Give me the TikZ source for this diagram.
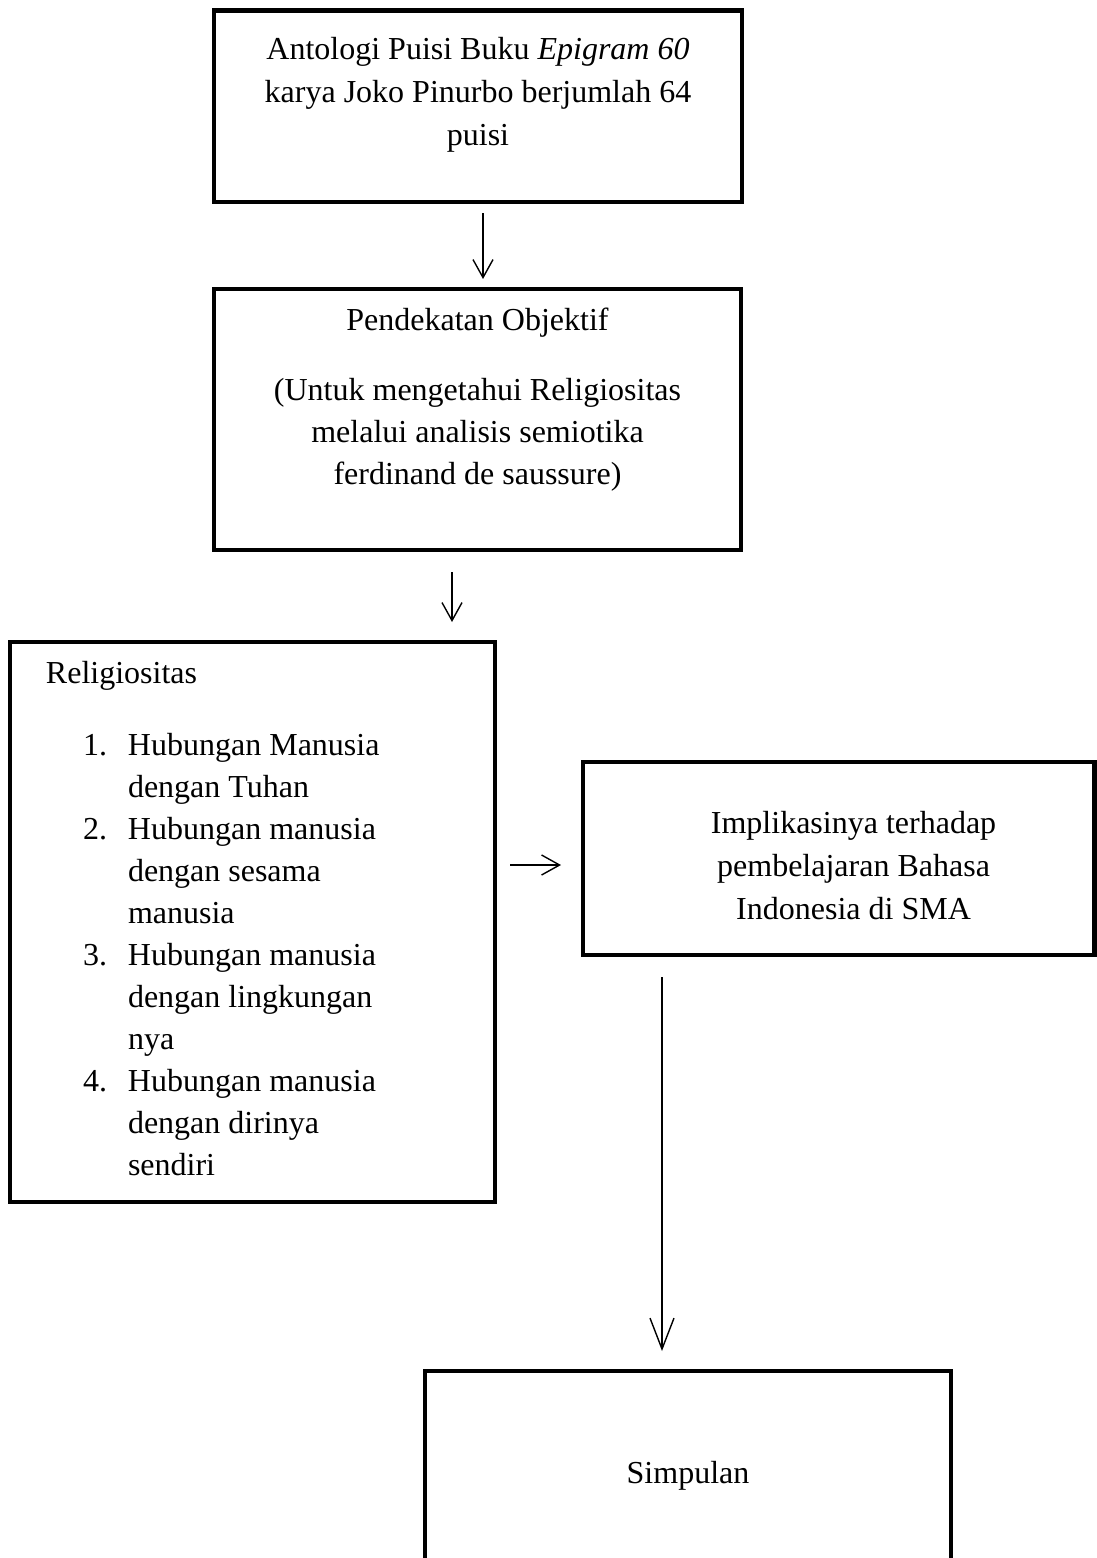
\documentclass[tikz,border=0pt]{standalone}
\usepackage{fontspec}
\setmainfont{Liberation Serif}
\usetikzlibrary{positioning,arrows.meta}

\begin{document}
\begin{tikzpicture}[x=0.5pt,y=-0.5pt,
		>={Straight Barb[length=9pt,width=10pt]},
		font=\fontsize{16}{21.5}\selectfont,
		box/.style={draw,line width=2.3pt,inner sep=0pt,outer sep=0pt},
		txt/.style={inner sep=0pt,outer sep=0pt,align=center},
		flow/.style={line width=0.7pt},
	]
	\path[use as bounding box,clip] (0,0) rectangle (1097,1558);

	\node[box,minimum width=264pt,minimum height=95.75pt] (ant) at (478,106.25) {};
	\node[txt,below=13.3pt of ant.north] (antt) {
		Antologi Puisi Buku \textit{Epigram 60}\\
		karya Joko Pinurbo berjumlah 64\\
		puisi
	};

	\node[box,minimum width=263.5pt,minimum height=130.5pt] (pend) at (477.5,419.5) {};
	\node[txt,below=9.5pt of pend.north,font=\fontsize{16}{21}\selectfont] (pendt) {
		Pendekatan Objektif\\[14pt]
		(Untuk mengetahui Religiositas\\
		melalui analisis semiotika\\
		ferdinand de saussure)
	};

	\node[box,minimum width=242.5pt,minimum height=280pt] (rel) at (252.5,922) {};
	\node[txt,below right=9.5pt and 18pt of rel.north west] (relt) {Religiositas};
	\node[txt,below right=41.8pt and 36.5pt of rel.north west,font=\fontsize{16}{21}\selectfont] (list) {
		\begin{tabular}{@{}p{22.5pt}@{}l@{}}
			1. & Hubungan Manusia \\
			   & dengan Tuhan \\
			2. & Hubungan manusia \\
			   & dengan sesama \\
			   & manusia \\
			3. & Hubungan manusia \\
			   & dengan lingkungan \\
			   & nya \\
			4. & Hubungan manusia \\
			   & dengan dirinya \\
			   & sendiri
		\end{tabular}
	};

	\node[box,minimum width=255.75pt,minimum height=96.5pt] (impl) at (838.75,858.5) {};
	\node[txt,below=24.5pt of impl.north,xshift=7.4pt] (implt) {
		Implikasinya terhadap\\
		pembelajaran Bahasa\\
		Indonesia di SMA
	};

	% bottom edge runs off the page
	\node[box,minimum width=263pt,minimum height=115pt] (simp) at (688,1486) {};
	\node[txt,below=45pt of simp.north] (simpt) {Simpulan};

	\coordinate (a1) at (483,213);
	\coordinate (b1) at (483,279);
	\coordinate (a2) at (452,572);
	\coordinate (b2) at (452,622);
	\coordinate (a3) at (510,865);
	\coordinate (b3) at (561,865);
	\coordinate (a4) at (662,977);
	\coordinate (b4) at (662,1351);

	\path[->,flow]
		(a1) edge (b1)
		(a2) edge (b2)
		(a3) edge (b3)
		(a4) edge[-{Straight Barb[length=15.5pt,width=12pt]}] (b4)
	;
\end{tikzpicture}
\end{document}
